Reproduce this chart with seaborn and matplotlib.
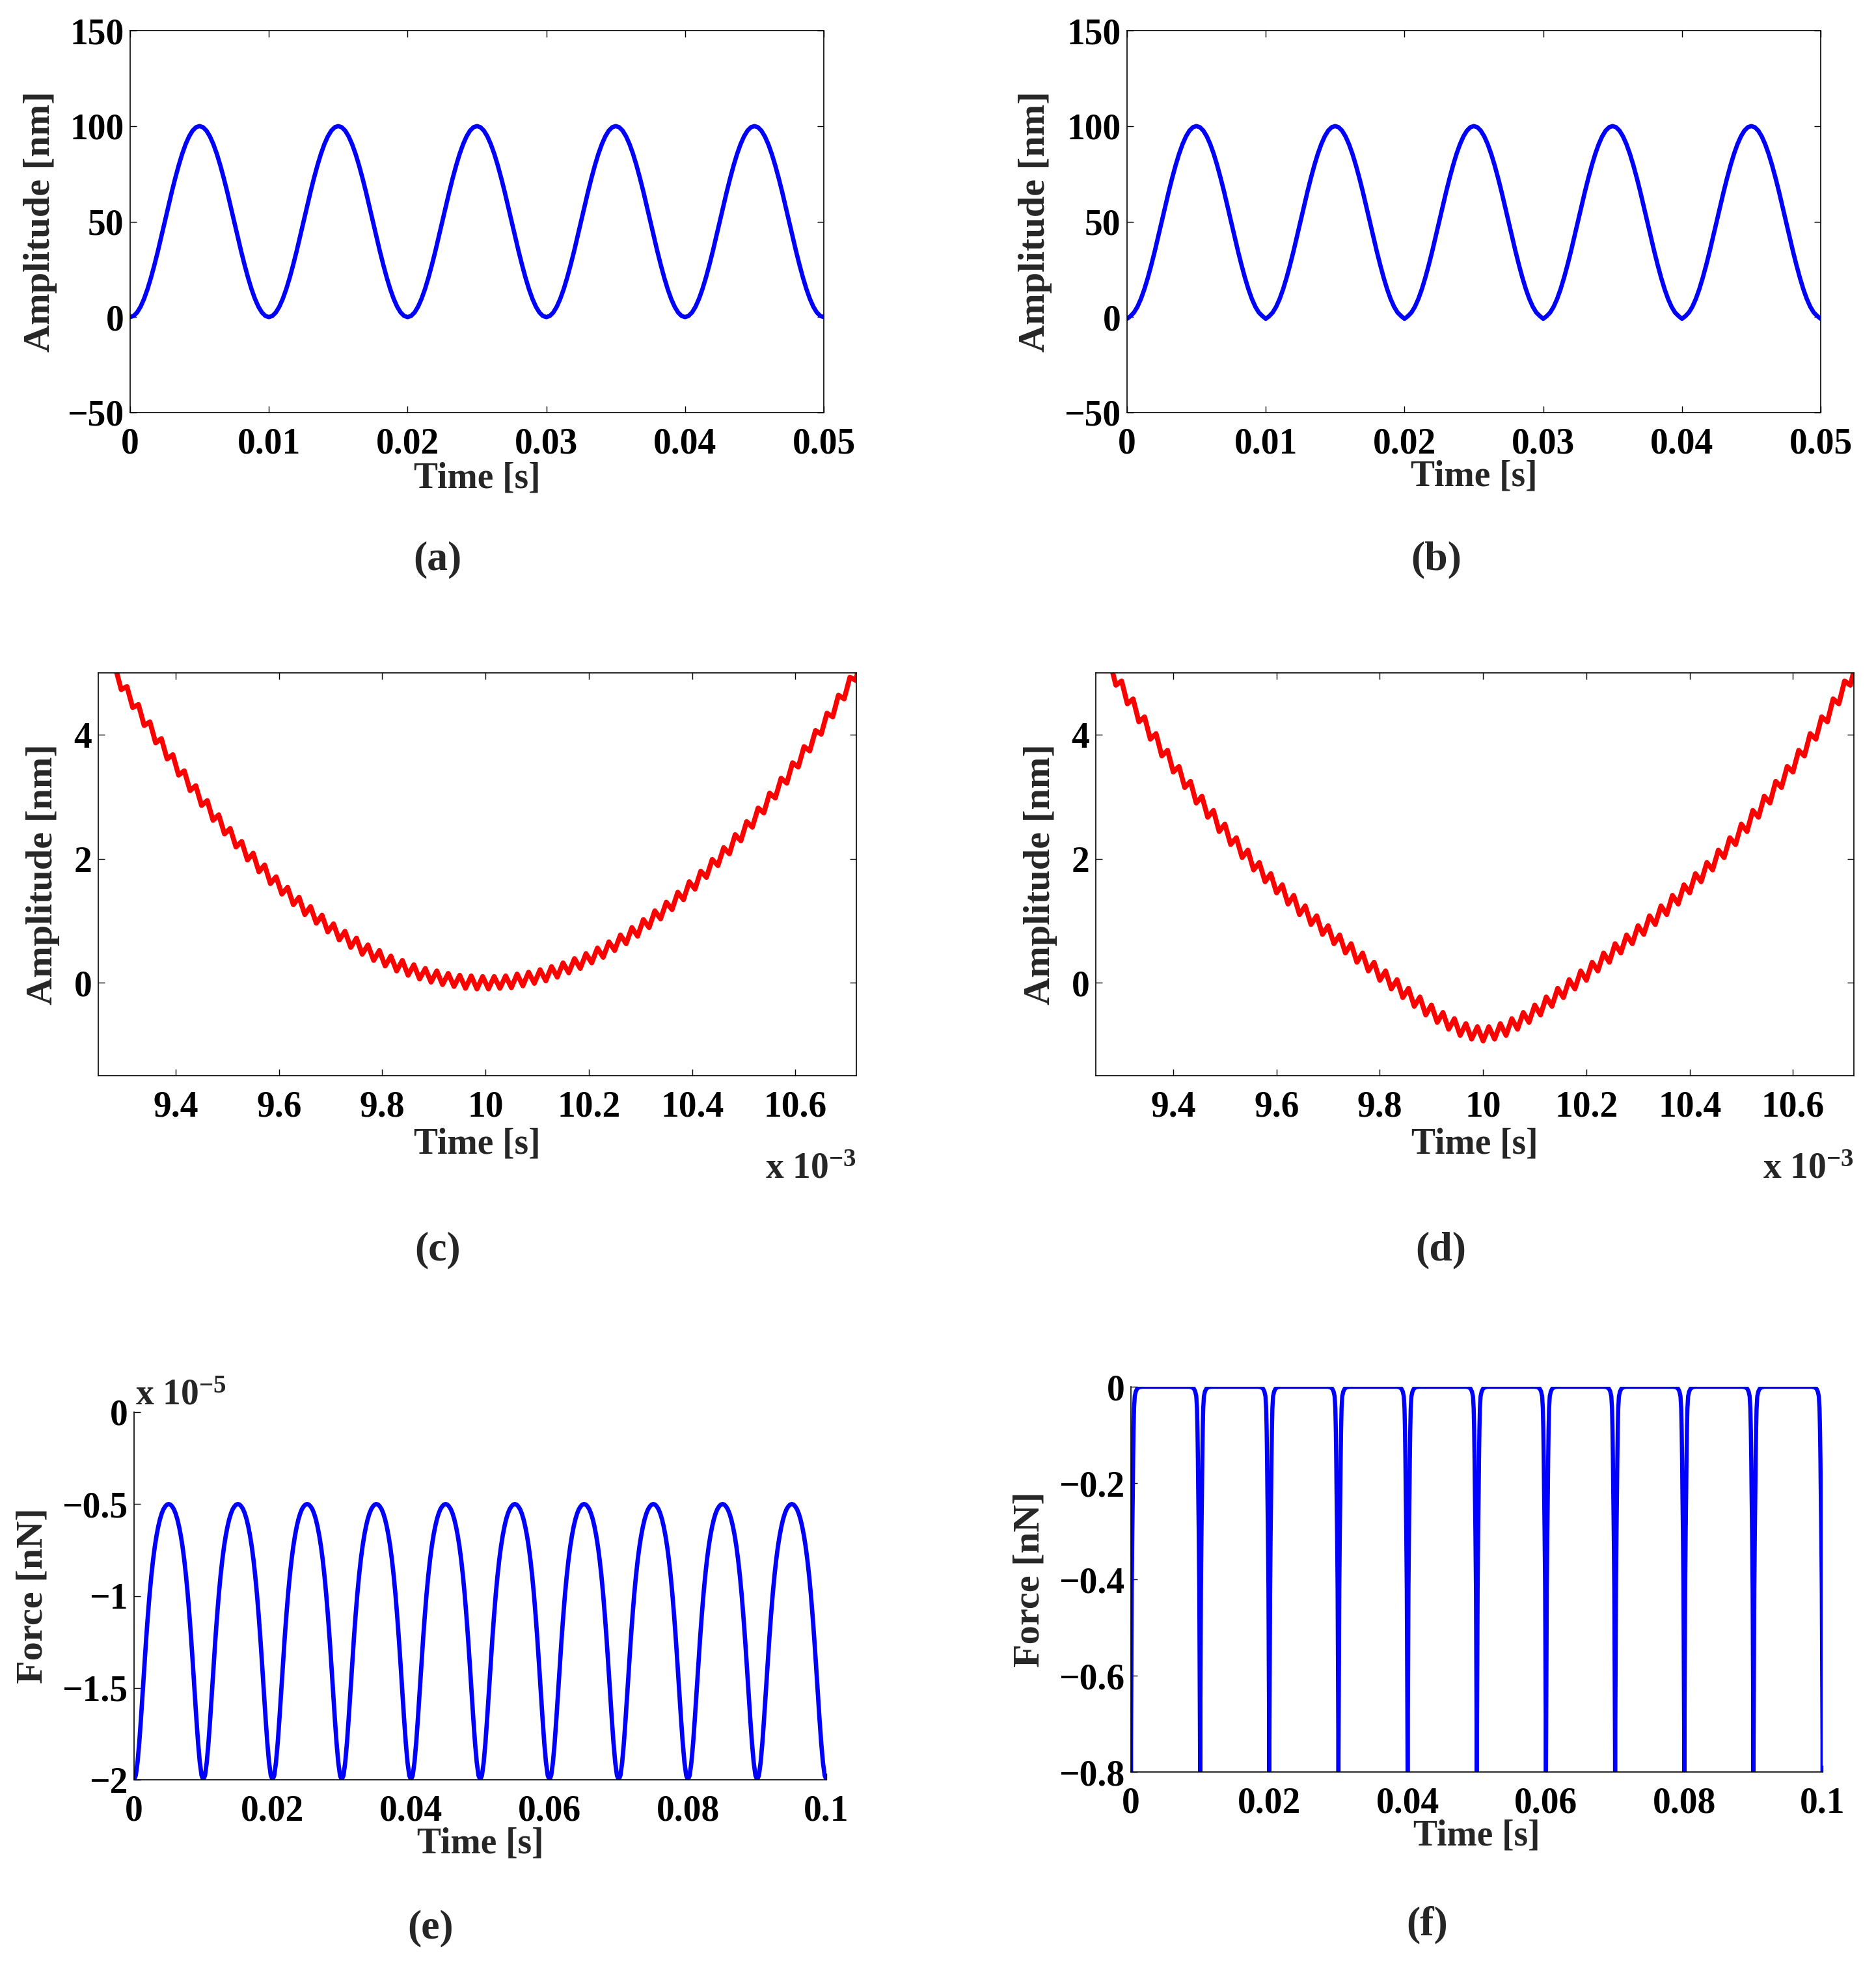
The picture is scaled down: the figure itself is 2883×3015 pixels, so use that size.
import matplotlib

matplotlib.use("Agg")

import matplotlib.pyplot as plt
import numpy as np
import seaborn as sns
from matplotlib.ticker import FixedLocator, FuncFormatter

# ---------------------------------------------------------------- data
# (a) one period of the 100 Hz drive, sampled every 0.25 ms [nm]
a_period = [0, 0.6, 2.4, 5.4, 9.5, 14.6, 20.6, 27.3, 34.5, 42.2,
            50, 57.8, 65.5, 72.7, 79.4, 85.4, 90.5, 94.6, 97.6, 99.4,
            100, 99.4, 97.6, 94.6, 90.5, 85.4, 79.4, 72.7, 65.5, 57.8,
            50, 42.2, 34.5, 27.3, 20.6, 14.6, 9.5, 5.4, 2.4, 0.6]
# (b) same drive, the trough dips slightly below zero
b_period = [-0.9, 0.5, 2.4, 5.4, 9.5, 14.6, 20.6, 27.3, 34.5, 42.2,
            50, 57.8, 65.5, 72.7, 79.4, 85.4, 90.5, 94.6, 97.6, 99.4,
            100, 99.4, 97.6, 94.6, 90.5, 85.4, 79.4, 72.7, 65.5, 57.8,
            50, 42.2, 34.5, 27.3, 20.6, 14.6, 9.5, 5.4, 2.4, 0.6]
ab_periods = 5
ab_step = 0.00025  # s

# (c) ripple peaks / troughs around t = 10 ms [nm]
c_amplitude = [
    5.35, 5.39, 5.04, 5.08, 4.73, 4.78, 4.44, 4.49, 4.15, 4.21, 3.87, 3.94,
    3.61, 3.68, 3.35, 3.42, 3.10, 3.18, 2.86, 2.94, 2.62, 2.71, 2.40, 2.49,
    2.19, 2.28, 1.98, 2.09, 1.79, 1.90, 1.60, 1.71, 1.43, 1.54, 1.26, 1.38,
    1.10, 1.23, 0.96, 1.09, 0.82, 0.95, 0.69, 0.83, 0.57, 0.72, 0.46, 0.61,
    0.36, 0.52, 0.27, 0.43, 0.19, 0.36, 0.12, 0.29, 0.06, 0.23, 0.01, 0.19,
    -0.03, 0.15, -0.06, 0.12, -0.09, 0.11, -0.10, 0.10,
    -0.10, 0.10, -0.09, 0.11, -0.08, 0.14, -0.05, 0.17, -0.01, 0.21, 0.03, 0.26,
    0.09, 0.32, 0.16, 0.39, 0.23, 0.47, 0.32, 0.56, 0.41, 0.66, 0.52, 0.77,
    0.63, 0.89, 0.75, 1.02, 0.89, 1.16, 1.03, 1.30, 1.18, 1.46, 1.34, 1.63,
    1.51, 1.80, 1.70, 1.99, 1.89, 2.18, 2.08, 2.39, 2.29, 2.60, 2.51, 2.82,
    2.74, 3.06, 2.98, 3.30, 3.22, 3.55, 3.48, 3.81, 3.74, 4.07, 4.01, 4.35,
    4.29, 4.64, 4.58, 4.93, 4.88, 5.24, 5.19, 5.55,
]
# (d) ripple peaks / troughs, V-shaped dip at t = 10 ms [nm]
d_amplitude = [
    5.42, 5.48, 5.10, 5.17, 4.80, 4.87, 4.50, 4.58, 4.21, 4.29, 3.93, 4.02,
    3.66, 3.75, 3.40, 3.49, 3.15, 3.25, 2.90, 3.01, 2.67, 2.78, 2.44, 2.56,
    2.23, 2.34, 2.02, 2.14, 1.82, 1.94, 1.63, 1.76, 1.45, 1.58, 1.27, 1.41,
    1.10, 1.24, 0.94, 1.08, 0.78, 0.92, 0.63, 0.77, 0.48, 0.63, 0.33, 0.48,
    0.19, 0.33, 0.04, 0.19, -0.10, 0.05, -0.24, -0.09, -0.38, -0.23, -0.52, -0.36,
    -0.64, -0.48, -0.75, -0.58, -0.85, -0.66, -0.91, -0.71,
    -0.94, -0.71, -0.91, -0.66, -0.85, -0.58, -0.75, -0.48, -0.64, -0.36, -0.52, -0.23,
    -0.38, -0.09, -0.24, 0.05, -0.10, 0.19, 0.04, 0.33, 0.19, 0.48, 0.33, 0.63,
    0.48, 0.77, 0.63, 0.92, 0.78, 1.08, 0.94, 1.24, 1.10, 1.41, 1.27, 1.58,
    1.45, 1.76, 1.63, 1.94, 1.82, 2.14, 2.02, 2.34, 2.23, 2.56, 2.44, 2.78,
    2.67, 3.01, 2.90, 3.25, 3.15, 3.49, 3.40, 3.75, 3.66, 4.02, 3.93, 4.29,
    4.21, 4.58, 4.50, 4.87, 4.80, 5.17,
]
ripple_half = 0.2 / 18  # ms between a ripple peak and trough

# (e) one period of the force, every 0.25 ms [x 1e-5 nN]
e_period = [-2.000, -1.976, -1.906, -1.799, -1.667, -1.522, -1.375, -1.234,
            -1.105, -0.989, -0.889, -0.803, -0.731, -0.671, -0.622, -0.582,
            -0.551, -0.528, -0.513, -0.503, -0.500, -0.503, -0.513, -0.528,
            -0.551, -0.582, -0.622, -0.671, -0.731, -0.803, -0.889, -0.989,
            -1.105, -1.234, -1.375, -1.522, -1.667, -1.799, -1.906, -1.976]
e_periods = 10
e_step = 0.00025

# (f) one contact spike (offset from spike centre in ms) [nN]
f_spike_dt = [-1.6, -1.2, -0.9, -0.7, -0.55, -0.45, -0.38, -0.32, -0.27, -0.2,
              -0.12, -0.07, -0.03, 0.0, 0.03, 0.07, 0.12, 0.2, 0.27, 0.32,
              0.38, 0.45, 0.55, 0.7, 0.9, 1.2, 1.6]
f_spike_force = [0.0, -0.001, -0.004, -0.01, -0.02, -0.045, -0.09, -0.15, -0.22, -0.3,
                 -0.42, -0.56, -0.7, -0.8, -0.7, -0.56, -0.42, -0.3, -0.22, -0.15,
                 -0.09, -0.045, -0.02, -0.01, -0.004, -0.001, 0.0]
f_spike_times = [0.0, 0.01, 0.02, 0.03, 0.04, 0.05, 0.06, 0.07, 0.08, 0.09, 0.1]

# ---------------------------------------------------------------- series
a_y = np.concatenate([np.tile(a_period, ab_periods), a_period[:1]])
a_t = np.arange(a_y.size) * ab_step
b_y = np.concatenate([np.tile(b_period, ab_periods), b_period[:1]])
b_t = np.arange(b_y.size) * ab_step

c_t = (10.0 + (np.arange(-68, 68) + 0.5) * ripple_half) * 1e-3
d_t = (10.0 + np.arange(-68, 66) * ripple_half) * 1e-3

e_y = np.concatenate([np.tile(e_period, e_periods), e_period[:1]]) * 1e-5
e_t = np.arange(e_y.size) * e_step

f_t = (np.array(f_spike_times)[:, None] + np.array(f_spike_dt)[None, :] * 1e-3).ravel()
f_y = np.tile(f_spike_force, len(f_spike_times))

# ---------------------------------------------------------------- style
sns.set_theme(style="white")
plt.rcParams["font.family"] = ["Liberation Serif", "DejaVu Serif"]
plt.rcParams["font.weight"] = "bold"
plt.rcParams["axes.labelweight"] = "bold"
plt.rcParams["mathtext.fontset"] = "custom"
plt.rcParams["mathtext.rm"] = "Liberation Serif:bold"
plt.rcParams["mathtext.default"] = "rm"

W, H = 2883, 3015
BLUE = (0, 0, 1)
RED = (1, 0, 0)


def add_axes(fig, left, right, top, bottom):
    return fig.add_axes([left / W, 1 - bottom / H, (right - left) / W, (bottom - top) / H])


def tick_fmt(scale=1.0):
    return FuncFormatter(lambda v, pos: f"{round(v * scale, 6):g}".replace("-", "\u2212"))


def style(ax, boxed=True):
    ax.set_facecolor("white")
    for sp in ax.spines.values():
        sp.set_color("black")
        sp.set_linewidth(1.2)
    if not boxed:
        ax.spines["top"].set_visible(False)
        ax.spines["right"].set_visible(False)
    ax.tick_params(direction="in", length=7.5, width=1.0, color="black",
                   labelcolor="black", labelsize=40,
                   bottom=True, left=True, top=boxed, right=boxed)
    ax.tick_params(axis="x", pad=16)
    ax.tick_params(axis="y", pad=7)


def labels(ax, ylabel, ylab_x, xlab_y):
    ax.set_xlabel("Time [s]", fontsize=40, fontweight="bold")
    ax.set_ylabel(ylabel, fontsize=42, fontweight="bold")
    ax.xaxis.set_label_coords(0.5, xlab_y)
    ax.yaxis.set_label_coords(ylab_x, 0.5)


fig = plt.figure(figsize=(W / 100, H / 100), dpi=100)
fig.patch.set_facecolor("white")

# (a) and (b)
for box, t, y, lab_x, xlab_y in [((200, 1266, 47, 634), a_t, a_y, -0.105, -0.129),
                                 ((1732, 2798, 47, 634), b_t, b_y, -0.108, -0.124)]:
    ax = add_axes(fig, *box)
    sns.lineplot(x=t, y=y, ax=ax, color=BLUE, linewidth=4.8, sort=False, estimator=None)
    ax.set_xlim(0, 0.05)
    ax.set_ylim(-50, 150)
    ax.xaxis.set_major_locator(FixedLocator([0, 0.01, 0.02, 0.03, 0.04, 0.05]))
    ax.yaxis.set_major_locator(FixedLocator([-50, 0, 50, 100, 150]))
    ax.xaxis.set_major_formatter(tick_fmt())
    ax.yaxis.set_major_formatter(tick_fmt())
    style(ax)
    labels(ax, "Amplitude [nm]", lab_x, xlab_y)

# (c) and (d)
for box, t, y in [((151, 1316, 1034, 1653), c_t, c_amplitude),
                  ((1684, 2849, 1034, 1653), d_t, d_amplitude)]:
    ax = add_axes(fig, *box)
    sns.lineplot(x=t, y=y, ax=ax, color=RED, linewidth=5.5, sort=False, estimator=None)
    ax.set_xlim(9.25e-3, 10.718e-3)
    ax.set_ylim(-1.5, 5)
    ax.xaxis.set_major_locator(FixedLocator([9.4e-3, 9.6e-3, 9.8e-3, 10e-3,
                                             10.2e-3, 10.4e-3, 10.6e-3]))
    ax.yaxis.set_major_locator(FixedLocator([0, 2, 4]))
    ax.xaxis.set_major_formatter(tick_fmt(1e3))
    ax.yaxis.set_major_formatter(tick_fmt())
    style(ax)
    labels(ax, "Amplitude [nm]", -0.051, -0.129)
    ax.text(1.0, -0.255, "x 10$^{-3}$", transform=ax.transAxes, ha="right",
            va="baseline", fontsize=40, fontweight="bold")

# (e)
ax = add_axes(fig, 206, 1270, 2170, 2735)
sns.lineplot(x=e_t, y=e_y, ax=ax, color=BLUE, linewidth=4.8, sort=False, estimator=None)
ax.set_xlim(0, 0.1)
ax.set_ylim(-2e-5, 0)
ax.xaxis.set_major_locator(FixedLocator([0, 0.02, 0.04, 0.06, 0.08, 0.1]))
ax.yaxis.set_major_locator(FixedLocator([-2e-5, -1.5e-5, -1e-5, -0.5e-5, 0]))
ax.xaxis.set_major_formatter(tick_fmt())
ax.yaxis.set_major_formatter(tick_fmt(1e5))
style(ax, boxed=False)
labels(ax, "Force [nN]", -0.122, -0.129)
ax.text(0.002, 1.021, "x 10$^{-5}$", transform=ax.transAxes, ha="left",
        va="baseline", fontsize=40, fontweight="bold")

# (f)
ax = add_axes(fig, 1738, 2801, 2131, 2723)
sns.lineplot(x=f_t, y=f_y, ax=ax, color=BLUE, linewidth=4.6, sort=False, estimator=None)
ax.set_xlim(0, 0.1)
ax.set_ylim(-0.8, 0)
ax.xaxis.set_major_locator(FixedLocator([0, 0.02, 0.04, 0.06, 0.08, 0.1]))
ax.yaxis.set_major_locator(FixedLocator([-0.8, -0.6, -0.4, -0.2, 0]))
ax.xaxis.set_major_formatter(tick_fmt())
ax.yaxis.set_major_formatter(tick_fmt())
style(ax, boxed=False)
labels(ax, "Force [nN]", -0.122, -0.123)

# panel letters
for letter, x, y in [("(a)", 672, 860), ("(b)", 2207, 860),
                     ("(c)", 673, 1921), ("(d)", 2214, 1921),
                     ("(e)", 662, 2963), ("(f)", 2193, 2958)]:
    fig.text(x / W, 1 - y / H, letter, ha="center", va="center",
             fontsize=46, fontweight="bold")

fig.savefig("out.png", dpi=100, facecolor="white")
plt.close(fig)
